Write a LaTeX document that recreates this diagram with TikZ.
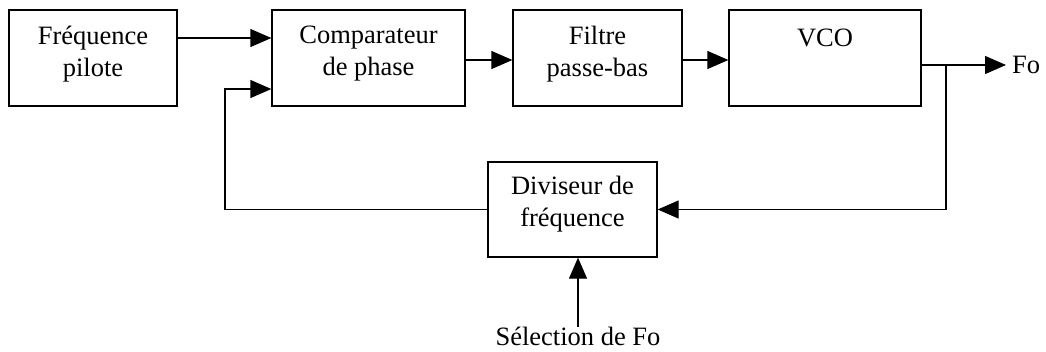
\documentclass[tikz,border=0pt]{standalone}
\usepackage{fontspec}
\setmainfont{Liberation Serif}
\usetikzlibrary{arrows.meta}
\begin{document}
\begin{tikzpicture}[x=1pt,y=-1pt,
  box/.style={draw, line width=1.3pt, inner sep=0pt},
  lbl/.style={font=\fontsize{26.5}{32}\selectfont, align=center, inner sep=0pt},
  conn/.style={line width=1.3pt},
  arr/.style={conn, -{Triangle[length=21pt,width=18pt]}}]
\useasboundingbox (0,0) rectangle (1046,351);
\node[box, minimum width=168pt, minimum height=96pt] (fp) at (93,58) {};
\node[box, minimum width=193pt, minimum height=96pt] (cp) at (368.5,58) {};
\node[box, minimum width=169pt, minimum height=96pt] (fl) at (597.5,58) {};
\node[box, minimum width=192pt, minimum height=96pt] (vco) at (825,58) {};
\node[box, minimum width=169pt, minimum height=95pt] (div) at (572.5,209.5) {};
\node[lbl] (tfp) at (93,54) {Fréquence\\pilote};
\node[lbl] (tcp) at (368.5,54) {Comparateur\\de phase};
\node[lbl] (tfl) at (597.5,54) {Filtre\\passe-bas};
\node[lbl] (tvco) at (825,38) {VCO};
\node[lbl] (tdiv) at (572.5,204) {Diviseur de\\fréquence};
\node[lbl, anchor=west] (fo) at (1012,65) {Fo};
\node[lbl] (sel) at (578,336.5) {Sélection de Fo};
\coordinate (br) at (946,65);
\coordinate (fotip) at (1006,65);
\coordinate (sb) at (578,327);
\draw[arr] (fp.east |- 0,38) -- (cp.west |- 0,38);
\draw[arr] (cp.east |- 0,60) -- (fl.west |- 0,60);
\draw[arr] (fl.east |- 0,60) -- (vco.west |- 0,60);
\draw[arr] (vco.east |- br) -- (fotip);
\draw[arr] (br) |- (div.east);
\draw[arr] (div.west) -| (225,89) -- (cp.west |- 0,89);
\draw[arr] (sb) -- (sb |- div.south);
\end{tikzpicture}
\end{document}
